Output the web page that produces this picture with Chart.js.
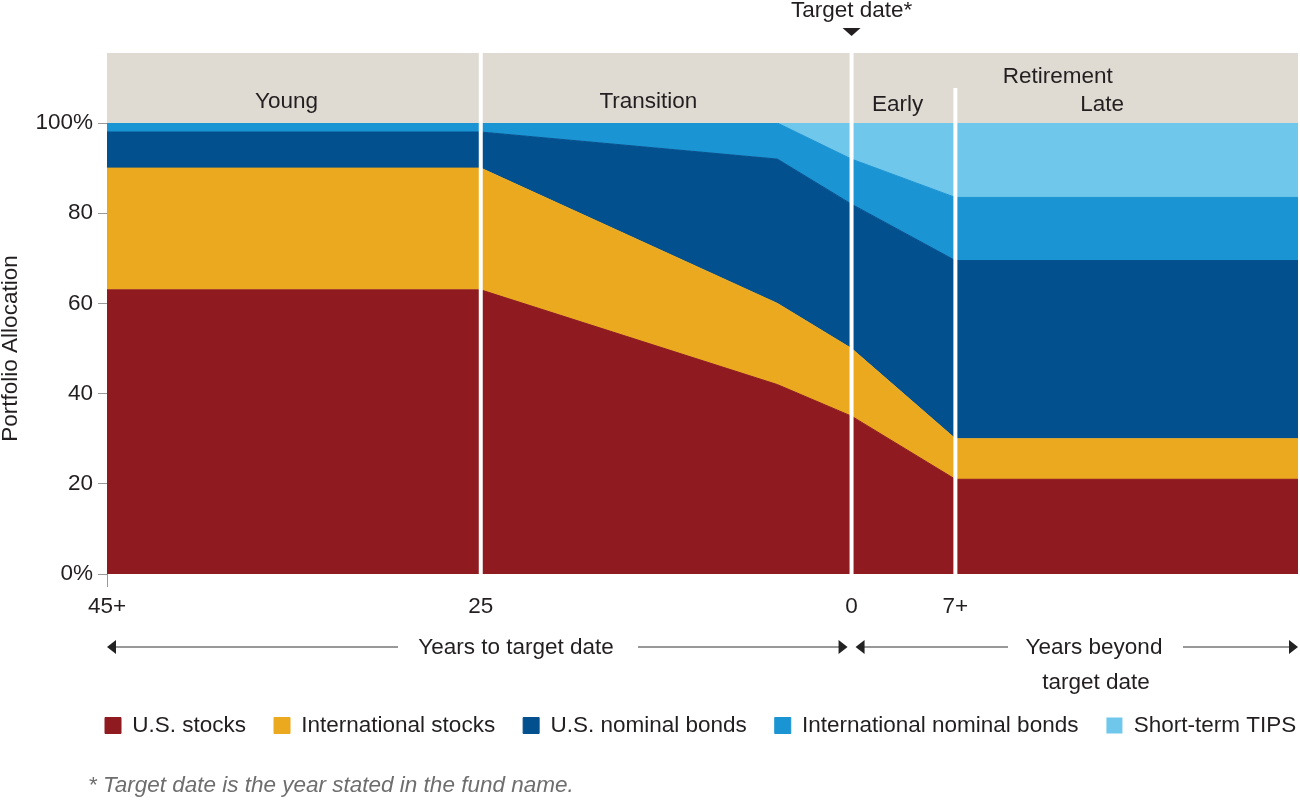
<!DOCTYPE html>
<html>
<head>
<meta charset="utf-8">
<script src="https://cdn.jsdelivr.net/npm/chart.js@4.4.1/dist/chart.umd.min.js"></script>
<style>
html,body{margin:0;padding:0;background:#fff;overflow:hidden}
#wrap{width:1300px;height:800px;position:relative}
</style>
</head>
<body>
<div id="wrap"><canvas id="c" width="1300" height="800"></canvas></div>
<script>
// ---- data ----
const seriesNames = ['U.S. stocks', 'International stocks', 'U.S. nominal bonds', 'International nominal bonds', 'Short-term TIPS'];
// timeline positions: years relative to the target date (left end = the "45+" stage)
const positions  = [-50.2, -25, -5, 0, 7, 30.1];
const usStocks   = [63, 63, 42, 35, 21, 21];
const intlStocks = [27, 27, 18, 15, 9, 9];
const usBonds    = [8, 8, 32, 32, 39.5, 39.5];
const intlBonds  = [2, 2, 8, 10, 14, 14];
const tips       = [0, 0, 0, 8, 16.5, 16.5];
const xTickValues = [-50.2, -25, 0, 7];
const xTickLabels = ['45+', '25', '0', '7+'];
const yTickValues = [0, 20, 40, 60, 80, 100];
const yTickLabels = ['0%', '20', '40', '60', '80', '100%'];
const phaseBoundaries = [-25, 0, 7];

const colors = ['#8f1a20', '#eba920', '#03508e', '#1b94d3', '#6fc8ec'];
const F = "'Liberation Sans', Arial, Helvetica, sans-serif";
const TXT = '#231f20';
const FS = 22.5;

const seriesValues = [usStocks, intlStocks, usBonds, intlBonds, tips];
const datasets = seriesValues.map((vals, i) => ({
  label: seriesNames[i],
  data: vals.map((v, k) => ({x: positions[k], y: v})),
  backgroundColor: colors[i],
  borderColor: colors[i],
  borderWidth: i === 4 ? 0 : 1,
  pointRadius: 0,
  tension: 0,
  fill: i === 0 ? 'origin' : '-1'
}));

function head(ctx, tipX, y, dir) {
  ctx.beginPath();
  ctx.moveTo(tipX, y);
  ctx.lineTo(tipX - dir * 9, y - 7);
  ctx.lineTo(tipX - dir * 9, y + 7);
  ctx.closePath();
  ctx.fill();
}
function hline(ctx, x1, x2, y) {
  ctx.beginPath();
  ctx.moveTo(x1, y);
  ctx.lineTo(x2, y);
  ctx.stroke();
}

const deco = {
  id: 'deco',
  afterLayout(chart) {
    const lg = chart.legend;
    if (lg) {
      lg.left = 77; lg.right = 1700; lg.width = 1623;
      lg.top = 686.25; lg.bottom = 686.25 + lg.height;
    }
  },
  beforeDatasetsDraw(chart) {
    const {ctx, chartArea: a} = chart;
    ctx.save();
    ctx.fillStyle = '#dfdad2';
    ctx.fillRect(a.left, a.top - 70, a.right - a.left, 70);
    ctx.restore();
  },
  afterDatasetsDraw(chart) {
    const {ctx, chartArea: a, scales: {x}} = chart;
    ctx.save();
    ctx.strokeStyle = '#ffffff';
    ctx.lineWidth = 4;
    phaseBoundaries.forEach((b, i) => {
      const px = x.getPixelForValue(b);
      ctx.beginPath();
      ctx.moveTo(px, i === 2 ? a.top - 35 : a.top - 70);
      ctx.lineTo(px, a.bottom);
      ctx.stroke();
    });
    ctx.restore();
  },
  afterDraw(chart) {
    const {ctx, chartArea: a, scales: {x}} = chart;
    const x0 = x.getPixelForValue(0);
    ctx.save();
    // band labels
    ctx.font = `${FS}px ${F}`;
    ctx.fillStyle = TXT;
    ctx.textAlign = 'center';
    ctx.textBaseline = 'middle';
    [['Young', -38.1, -21], ['Transition', -13.7, -21], ['Early', 3.1, -18],
     ['Late', 16.9, -18], ['Retirement', 13.9, -46]].forEach(([t, p, dy]) => {
      ctx.fillText(t, x.getPixelForValue(p), a.top + dy);
    });
    // target date marker
    ctx.fillText('Target date*', x0, 11);
    ctx.beginPath();
    ctx.moveTo(x0 - 9, 28); ctx.lineTo(x0 + 9, 28); ctx.lineTo(x0, 36); ctx.closePath();
    ctx.fill();
    // y-axis extension below the plot
    ctx.strokeStyle = '#999';
    ctx.lineWidth = 1;
    ctx.beginPath();
    ctx.moveTo(a.left + 0.5, a.bottom);
    ctx.lineTo(a.left + 0.5, a.bottom + 13);
    ctx.stroke();
    // arrows row
    const ay = 647;
    ctx.strokeStyle = '#333';
    ctx.fillStyle = '#222';
    ctx.lineWidth = 1.2;
    hline(ctx, a.left + 8, 398, ay); head(ctx, a.left, ay, -1);
    hline(ctx, 638, x0 - 12, ay); head(ctx, x0 - 4, ay, 1);
    hline(ctx, x0 + 12, 1008, ay); head(ctx, x0 + 4, ay, -1);
    hline(ctx, 1183, a.right - 8, ay); head(ctx, a.right, ay, 1);
    ctx.fillStyle = TXT;
    ctx.fillText('Years to target date', 516, 648);
    ctx.fillText('Years beyond', 1094, 648);
    ctx.fillText('target date', 1096, 683);
    // footnote
    ctx.font = `italic ${FS}px ${F}`;
    ctx.fillStyle = '#6e6e6e';
    ctx.textAlign = 'left';
    ctx.fillText('* Target date is the year stated in the fund name.', 88, 786);
    ctx.restore();
  }
};

Chart.defaults.font.family = F;
Chart.defaults.color = TXT;

new Chart(document.getElementById('c'), {
  type: 'line',
  data: {datasets},
  options: {
    responsive: false,
    animation: false,
    events: [],
    devicePixelRatio: 1,
    layout: {padding: {top: 123, right: 2, bottom: 105.5, left: 0}},
    plugins: {
      tooltip: {enabled: false},
      legend: {
        position: 'bottom',
        align: 'start',
        labels: {
          boxWidth: 16, boxHeight: 16, padding: 28,
          font: {size: FS, family: F}, color: TXT
        }
      }
    },
    scales: {
      x: {
        type: 'linear',
        min: -50.2, max: 30.1,
        grid: {display: false, drawTicks: false},
        border: {display: false},
        afterBuildTicks: s => { s.ticks = xTickValues.map(v => ({value: v})); },
        afterFit: s => { s.height = 60; },
        ticks: {
          autoSkip: false, maxRotation: 0, padding: 19,
          font: {size: FS, family: F}, color: TXT,
          callback: (v, i) => xTickLabels[i]
        }
      },
      y: {
        stacked: true,
        min: 0, max: 100,
        afterBuildTicks: s => { s.ticks = yTickValues.map(v => ({value: v})); },
        afterFit: s => { s.width = 107; },
        grid: {drawOnChartArea: false, drawTicks: true, tickLength: 9, color: '#999'},
        border: {display: true, color: '#999', width: 1},
        ticks: {
          padding: 5,
          font: {size: FS, family: F}, color: TXT,
          callback: (v, i) => yTickLabels[i]
        },
        title: {
          display: true, text: 'Portfolio Allocation',
          font: {size: FS, family: F, lineHeight: 1}, color: TXT,
          padding: 0
        }
      }
    }
  },
  plugins: [deco]
});
</script>
</body>
</html>
